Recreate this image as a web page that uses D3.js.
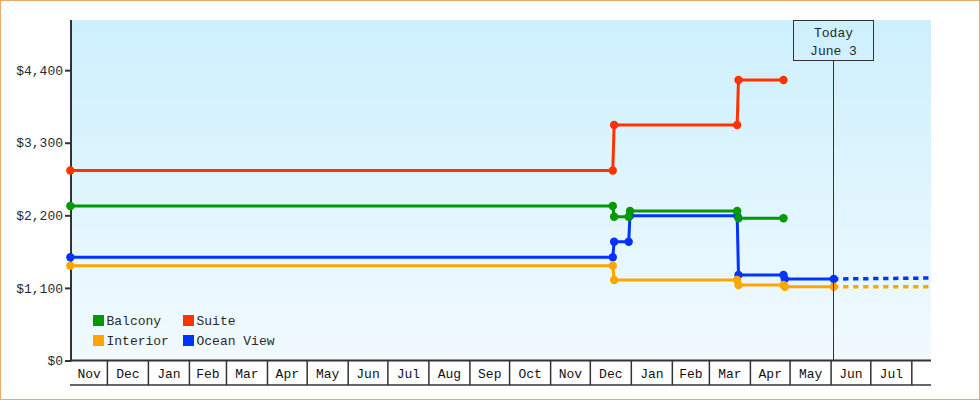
<!DOCTYPE html>
<html><head><meta charset="utf-8">
<script src="https://cdn.jsdelivr.net/npm/d3@7"></script>
<style>
body{margin:0;background:#fff;}
svg{display:block;font-family:"Liberation Mono","DejaVu Sans Mono",monospace;}
</style></head><body>
<svg id="c" width="980" height="400"></svg>
<script>
// ---- data ----
const seriesNames = ["Balcony", "Suite", "Interior", "Ocean View"];
const seriesColors = ["#009900", "#ff3300", "#ffa500", "#0033ff"];

const balconyDates  = ["2016-11-03","2017-12-18","2017-12-19","2017-12-30","2017-12-31","2018-03-22","2018-03-23","2018-04-26"];
const balconyValues = [2341, 2341, 2179, 2179, 2265, 2265, 2155, 2155];

const suiteDates  = ["2016-11-03","2017-12-18","2017-12-19","2018-03-22","2018-03-23","2018-04-26"];
const suiteValues = [2879, 2879, 3569, 3569, 4250, 4250];

const interiorDates  = ["2016-11-03","2017-12-18","2017-12-19","2018-03-22","2018-03-23","2018-04-26","2018-04-27","2018-06-03"];
const interiorValues = [1437, 1437, 1220, 1220, 1144, 1144, 1118, 1118];
const interiorForecastDates  = ["2018-06-03","2018-08-15"];
const interiorForecastValues = [1118, 1118];

const oceanDates  = ["2016-11-03","2017-12-18","2017-12-19","2017-12-30","2017-12-31","2018-03-22","2018-03-23","2018-04-26","2018-04-27","2018-06-03"];
const oceanValues = [1564, 1564, 1800, 1800, 2195, 2195, 1296, 1296, 1235, 1235];
const oceanForecastDates  = ["2018-06-03","2018-08-15"];
const oceanForecastValues = [1235, 1250];

const yTicks = [0, 1100, 2200, 3300, 4400];
const yMax = 5160;
const todayDate = "2018-06-03";
const todayLabels = ["Today", "June 3"];
const xStart = "2016-11-03T12:00", xEnd = "2018-08-15T12:00";

// ---- layout ----
const L = 71, R = 931, T = 20, B = 360.5, AX = 385;
const parse = s => new Date(s.length > 10 ? s : s + "T00:00");
const svg = d3.select("#c");
const x = d3.scaleTime().domain([parse(xStart), parse(xEnd)]).range([L, R]);
const y = d3.scaleLinear().domain([0, yMax]).range([B, T]);
const ink = "#2a2a2a";
const FONT = '"Liberation Mono","DejaVu Sans Mono",monospace';

// outer frame
svg.append("rect").attr("x", 0.5).attr("y", 0.5).attr("width", 979).attr("height", 399)
  .attr("fill", "#fff").attr("stroke", "#e8aa68").attr("stroke-width", 1);

// background gradient
const defs = svg.append("defs");
const g = defs.append("linearGradient").attr("id", "bg").attr("x1", 0).attr("y1", 0).attr("x2", 0).attr("y2", 1);
g.append("stop").attr("offset", "0%").attr("stop-color", "#ccf0fd");
g.append("stop").attr("offset", "100%").attr("stop-color", "#f2faff");
svg.append("rect").attr("x", L).attr("y", T).attr("width", R - L).attr("height", B - T).attr("fill", "url(#bg)");

// y axis
const yAxis = d3.axisLeft(y).tickValues(yTicks).tickFormat(d => "$" + d3.format(",")(d))
  .tickSize(6).tickPadding(2);
const ya = svg.append("g").attr("transform", `translate(${L},0)`).call(yAxis);
ya.select(".domain").remove();
ya.selectAll(".tick line").attr("stroke", "#333").attr("stroke-width", 2);
ya.selectAll(".tick text").attr("fill", ink).attr("font-size", 13).attr("font-family", FONT);
svg.append("line").attr("x1", L).attr("x2", L).attr("y1", T).attr("y2", B + 1)
  .attr("stroke", "#333").attr("stroke-width", 2);

// x axis : month cells
const xa = svg.append("g");
xa.append("line").attr("x1", L).attr("x2", R).attr("y1", B).attr("y2", B).attr("stroke", "#333").attr("stroke-width", 2);
xa.append("line").attr("x1", L - 1).attr("x2", R).attr("y1", AX).attr("y2", AX).attr("stroke", "#333").attr("stroke-width", 1.5);
const [d0, d1] = x.domain();
const months = d3.timeMonth.range(d3.timeMonth.floor(d0), d1);
const fmt = d3.timeFormat("%b");
months.forEach(m => {
  const s = m < d0 ? d0 : m;
  const next = d3.timeMonth.offset(m, 1);
  const e = next > d1 ? d1 : next;
  if (m >= d0) {
    xa.append("line").attr("x1", x(m)).attr("x2", x(m)).attr("y1", B).attr("y2", AX)
      .attr("stroke", "#333").attr("stroke-width", 1.5);
  }
  if (x(e) - x(s) > 30) {
    xa.append("text").attr("x", (x(s) + x(e)) / 2).attr("y", 377.5).attr("text-anchor", "middle")
      .attr("font-size", 13).attr("fill", "#111").text(fmt(m));
  }
});

// series
const series = [
  {name: "Ocean View", dates: oceanDates, values: oceanValues, fd: oceanForecastDates, fv: oceanForecastValues},
  {name: "Interior", dates: interiorDates, values: interiorValues, fd: interiorForecastDates, fv: interiorForecastValues},
  {name: "Balcony", dates: balconyDates, values: balconyValues},
  {name: "Suite", dates: suiteDates, values: suiteValues}
];
const color = d3.scaleOrdinal().domain(seriesNames).range(seriesColors);
const line = d3.line().x(d => x(d[0])).y(d => y(d[1]));

series.forEach(s => {
  if (s.fd) {
    const fpts = s.fd.map((d, i) => [parse(d), s.fv[i]]);
    svg.append("path").attr("d", line(fpts)).attr("fill", "none").attr("stroke", color(s.name))
      .attr("stroke-width", 3.5).attr("stroke-dasharray", "5.3,4.7").attr("stroke-dashoffset", 0.6);
  }
});
series.forEach(s => {
  const pts = s.dates.map((d, i) => [parse(d), s.values[i]]);
  svg.append("path").attr("d", line(pts)).attr("fill", "none").attr("stroke", color(s.name))
    .attr("stroke-width", 3).attr("stroke-linejoin", "round");
  svg.append("g").selectAll("circle").data(pts).join("circle")
    .attr("cx", d => x(d[0])).attr("cy", d => y(d[1])).attr("r", 4.2).attr("fill", color(s.name));
});

// today marker
const tx = Math.floor(x(parse(todayDate))) + 0.5;
svg.append("line").attr("x1", tx).attr("x2", tx).attr("y1", T + 41).attr("y2", B)
  .attr("stroke", "#333").attr("stroke-width", 1);
svg.append("rect").attr("x", tx - 40).attr("y", T + 0.5).attr("width", 80).attr("height", 40)
  .attr("fill", "none").attr("stroke", "#333").attr("stroke-width", 1);
todayLabels.forEach((t, i) => {
  svg.append("text").attr("x", tx).attr("y", 37 + i * 18).attr("text-anchor", "middle")
    .attr("font-size", 13).attr("fill", ink).text(t);
});

// legend
const legendOrder = ["Balcony", "Suite", "Interior", "Ocean View"];
legendOrder.forEach((n, i) => {
  const col = i % 2, row = Math.floor(i / 2);
  const lx = 93 + col * 90, ly = 315 + row * 20;
  svg.append("rect").attr("x", lx).attr("y", ly).attr("width", 11).attr("height", 11).attr("fill", color(n));
  svg.append("text").attr("x", lx + 13.5).attr("y", ly + 10).attr("font-size", 13).attr("fill", ink).text(n);
});
</script>
</body></html>
